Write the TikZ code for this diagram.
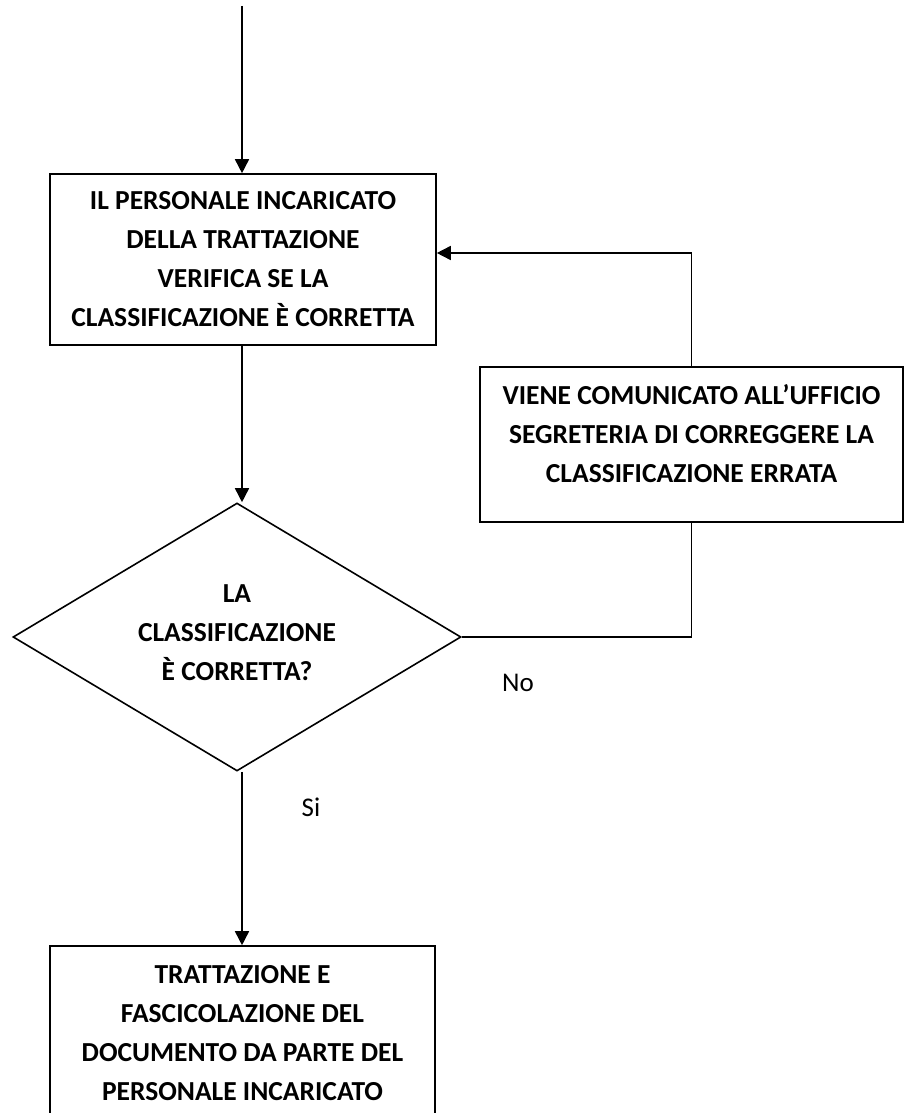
\documentclass[tikz,border=0pt]{standalone}
\usepackage{fontspec}
\setmainfont{Carlito}
\usetikzlibrary{arrows.meta,shapes.geometric}

\begin{document}
\begin{tikzpicture}[x=1pt,y=-1pt,
    box/.style={draw=black,line width=1.6pt,inner sep=0pt},
    boxtext/.style={align=center,font=\bfseries\fontsize{27.5}{39}\selectfont},
    arrow/.style={line width=1.6pt,-{Triangle[length=14pt,width=14pt]}},
    link/.style={line width=1.6pt}]
    \useasboundingbox (0,0) rectangle (904,1113);

    \coordinate (start) at (242,6);
    \node[box,boxtext,minimum width=386pt,minimum height=171pt] (check) at (243,259.5)
        {IL PERSONALE INCARICATO\\DELLA TRATTAZIONE\\VERIFICA SE LA\\CLASSIFICAZIONE È CORRETTA};

    % \node[box,boxtext] (notify) at (691.5,444.5) {...};
    \node[box,minimum width=423pt,minimum height=155pt] (notify) at (691.5,444.5) {};
    \node[boxtext] (notifytext) at (691.5,433.5)
        {VIENE COMUNICATO ALL’UFFICIO\\SEGRETERIA DI CORREGGERE LA\\CLASSIFICAZIONE ERRATA};

    \node[box,shape=diamond,minimum width=448pt,minimum height=268pt] (decide) at (237,637) {};
    \node[boxtext] (decidetext) at (237,632.5) {LA\\CLASSIFICAZIONE\\È CORRETTA?};

    \node[box,boxtext,minimum width=385pt,minimum height=175pt] (handle) at (242.5,1033.5)
        {TRATTAZIONE E\\FASCICOLAZIONE DEL\\DOCUMENTO DA PARTE DEL\\PERSONALE INCARICATO};

    \node[font=\fontsize{27}{32}\selectfont] (no) at (518,683) {No};
    \node[font=\fontsize{27}{32}\selectfont] (si) at (311,807) {Si};

    \coordinate (bend) at (notify.north |- 0,253);

    \draw[arrow] (start) -- (start |- check.north);
    \draw[arrow] (start |- check.south) -- (start |- decide.north);
    \draw[arrow] (start |- decide.south) -- (start |- handle.north);
    \draw[link] (decide.east) -- (notify.south |- decide.east) -- (notify.south);
    \draw[arrow] (notify.north) -- (bend) -- (check.east |- bend);
  \end{tikzpicture}
\end{document}
